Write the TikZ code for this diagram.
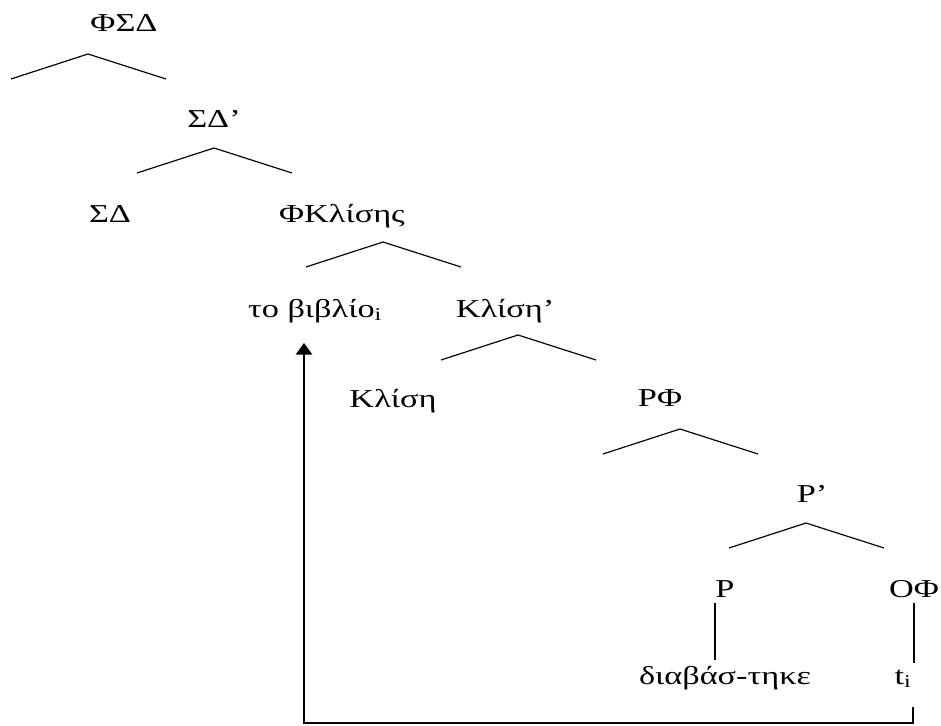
\documentclass[tikz,border=0pt]{standalone}
\usepackage{fontspec}
\setmainfont[FakeStretch=1.33]{Liberation Serif}
\usepackage{tikz}
\usetikzlibrary{arrows.meta,positioning}

\begin{document}
\begin{tikzpicture}[x=0.03cm,y=-0.03cm,
		lab/.style={anchor=base, inner sep=0pt, font=\fontsize{22}{26}\selectfont},
		branch/.style={line width=1pt},
		stem/.style={line width=1.5pt, shorten <=5pt, shorten >=5pt},
		move/.style={line width=1.6pt, -{Triangle[width=14pt,length=10pt]}}]
			\useasboundingbox (0,0) rectangle (941,726);

			\node[lab] (FSD) at (124,31) {ΦΣΔ};
			\node[lab] (SDbar) at (214,127) {ΣΔ’};
			\node[lab] (SD) at (110,222) {ΣΔ};
			\node[lab] (FK) at (342,222) {ΦΚλίσης};
			\node[lab] (book) at (315,317) {το βιβλίο\textsubscript{i}};
			\node[lab] (Kbar) at (505,317) {Κλίση’};
			\node[lab] (K) at (393,407) {Κλίση};
			\node[lab] (RF) at (660,406) {ΡΦ};
			\node[lab] (Rbar) at (812,502) {Ρ’};
			\node[lab] (R) at (725,597) {Ρ};
			\node[lab] (OF) at (914,597) {ΟΦ};
			\node[lab] (verb) at (725,684) {διαβάσ-τηκε};
			\node[lab] (t) at (903,684) {t\textsubscript{i}};

			\foreach \x/\y in {88/54, 214/148, 383/242, 518/335, 680/429, 806/523}
				\draw[branch] (\x,\y) ++(-77,25) -- (\x,\y) -- ++(78,25);

			\draw[stem] (R.south west) -- (R.south west |- verb.north);
			\draw[stem] (OF.south) -- (OF.south |- t.north);

			\coordinate (trace) at (913,707);
			\coordinate (land) at (304,343);
			\draw[move] (trace) -- ++(0,16) -| (land);
		\end{tikzpicture}
\end{document}
